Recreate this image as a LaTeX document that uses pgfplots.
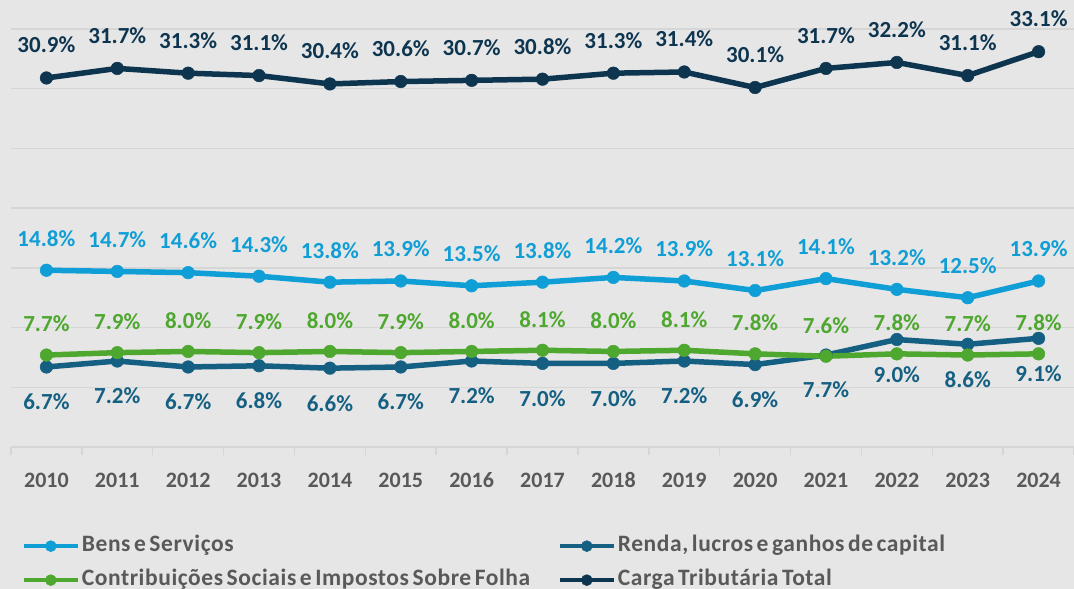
\documentclass[border=0pt]{standalone}
\usepackage{fontspec}
\setmainfont{Carlito}[WordSpace=0.6]
\newfontfamily\legfont{Carlito}[WordSpace=0.6, LetterSpace=2.5]
\usepackage{pgfplots}
\pgfplotsset{compat=1.18}
\definecolor{BgGray}{HTML}{E6E6E6}
\definecolor{GridGray}{HTML}{D6D6D6}
\definecolor{TxtGray}{HTML}{595959}
\definecolor{Bens}{HTML}{0F9ED5}
\definecolor{Renda}{HTML}{156082}
\definecolor{Contrib}{HTML}{4EA72E}
\definecolor{Carga}{HTML}{0E3550}

\pgfplotsset{
  serie/.style={color=#1, line width=5.5pt, mark=*, mark size=6.3pt,
    mark options={line width=0.5pt, fill=#1}},
  lbl/.style 2 args={nodes near coords={\pgfmathprintnumber[fixed,fixed zerofill,precision=1]{\pgfplotspointmeta}\%},
    point meta=y,
    every node near coord/.append style={font=\bfseries\fontsize{23}{26}\selectfont,
      text=#1, anchor=center, yshift=#2}},
}
\newcommand{\colone}[1]{\makebox[474pt][l]{#1}}

\begin{document}
\begin{tikzpicture}[x=1pt,y=1pt]
\fill[BgGray] (0,0) rectangle (1074,589);
\begin{axis}[
  at={(11pt,142pt)}, anchor=south west,
  scale only axis, width=1063pt, height=418pt,
  xmin=-0.5, xmax=14.5, ymin=0, ymax=35,
  /pgf/number format/assume math mode=true,
  axis x line*=bottom, axis y line*=left,
  y axis line style={draw=none},
  x axis line style={draw=GridGray, line width=1.5pt},
  xtick={0,...,14},
  xticklabels={2010,2011,2012,2013,2014,2015,2016,2017,2018,2019,2020,2021,2022,2023,2024},
  minor xtick={-0.5,0.5,...,14.5},
  major x tick style={draw=none},
  minor x tick style={draw=GridGray, line width=1.5pt},
  minor tick length=8pt, tick align=outside,
  xticklabel style={font=\bfseries\fontsize{22}{26}\selectfont, text=TxtGray, anchor=center, yshift=-29pt},
  ytick={5,10,...,35}, yticklabels={}, ytick style={draw=none},
  ymajorgrids, grid style={draw=GridGray, line width=1.5pt},
  clip=false,
  legend columns=2,
  legend style={at={(0.010,-0.208)}, anchor=north west, draw=none, fill=none,
    font=\legfont\bfseries\fontsize{23.5}{26}\selectfont, text=TxtGray,
    inner sep=0pt, row sep=10pt,
    nodes={inner sep=2pt, text height=15pt, text depth=5pt}},
  legend cell align=left,
  legend image code/.code={\draw[mark repeat=2,mark phase=2,#1,line width=4pt,mark size=5.5pt]
    plot coordinates {(0pt,0pt) (27pt,0pt) (54pt,0pt)};},
]
\addplot[serie=Bens, lbl={Bens}{32pt}] coordinates {
  (0,14.8) (1,14.7) (2,14.6) (3,14.3) (4,13.8) (5,13.9) (6,13.5) (7,13.8)
  (8,14.2) (9,13.9) (10,13.1) (11,14.1) (12,13.2) (13,12.5) (14,13.9)};
\addlegendentry{\colone{Bens e Serviços}}
\addplot[serie=Renda, lbl={Renda}{-35pt}] coordinates {
  (0,6.7) (1,7.2) (2,6.7) (3,6.8) (4,6.6) (5,6.7) (6,7.2) (7,7.0)
  (8,7.0) (9,7.2) (10,6.9) (11,7.7) (12,9.0) (13,8.6) (14,9.1)};
\addlegendentry{Renda, lucros e ganhos de capital}
\addplot[serie=Contrib, lbl={Contrib}{31pt}] coordinates {
  (0,7.7) (1,7.9) (2,8.0) (3,7.9) (4,8.0) (5,7.9) (6,8.0) (7,8.1)
  (8,8.0) (9,8.1) (10,7.8) (11,7.6) (12,7.8) (13,7.7) (14,7.8)};
\addlegendentry{\colone{Contribuições Sociais e Impostos Sobre Folha}}
\addplot[serie=Carga, lbl={Carga}{33pt}] coordinates {
  (0,30.9) (1,31.7) (2,31.3) (3,31.1) (4,30.4) (5,30.6) (6,30.7) (7,30.8)
  (8,31.3) (9,31.4) (10,30.1) (11,31.7) (12,32.2) (13,31.1) (14,33.1)};
\addlegendentry{Carga Tributária Total}
\end{axis}
\pgfresetboundingbox
\path (0,0) rectangle (1074,589);
\end{tikzpicture}
\end{document}
